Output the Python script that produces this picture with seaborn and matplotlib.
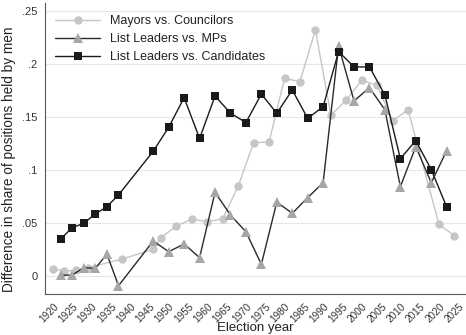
import numpy as np
import pandas as pd
import matplotlib
matplotlib.use('Agg')
import matplotlib.pyplot as plt
import seaborn as sns

# Mayors vs. Councilors
mayor_years = [1919, 1922, 1925, 1928, 1937, 1945, 1947, 1951, 1955, 1959, 1963, 1967,
               1971, 1975, 1979, 1983, 1987, 1991, 1995, 1999, 2003, 2007, 2011, 2019, 2023]
mayor_vals = [0.0069, 0.005, 0.0057, 0.008, 0.0163, 0.0255, 0.0364, 0.0475, 0.054, 0.0515,
              0.0543, 0.085, 0.126, 0.1267, 0.1868, 0.1836, 0.2324, 0.152, 0.1663, 0.185,
              0.180, 0.1468, 0.157, 0.049, 0.0383]

# List Leaders vs. MPs
mp_years = [1921, 1924, 1927, 1930, 1933, 1936, 1945, 1949, 1953, 1957, 1961, 1965, 1969,
            1973, 1977, 1981, 1985, 1989, 1993, 1997, 2001, 2005, 2009, 2013, 2017, 2021]
mp_vals = [0.001, 0.0012, 0.0081, 0.0075, 0.021, -0.0089, 0.0333, 0.0232, 0.0305, 0.0176,
           0.0792, 0.0578, 0.042, 0.0113, 0.070, 0.0594, 0.0742, 0.0883, 0.2173, 0.1654,
           0.178, 0.157, 0.0845, 0.1223, 0.0883, 0.1185]

# List Leaders vs. Candidates
cand_years = mp_years
cand_vals = [0.0352, 0.0458, 0.050, 0.0588, 0.0657, 0.0767, 0.118, 0.1406, 0.1685, 0.130,
             0.170, 0.154, 0.145, 0.1719, 0.1538, 0.1758, 0.149, 0.160, 0.212, 0.1975,
             0.1975, 0.171, 0.111, 0.128, 0.1006, 0.0654]

x_ticks = list(range(1920, 2026, 5))
y_ticks = [0, 0.05, 0.1, 0.15, 0.2, 0.25]
y_labels = ['0', '.05', '.1', '.15', '.2', '.25']

sns.set_style('white')
plt.rcParams['font.family'] = ['Liberation Sans', 'DejaVu Sans']

fig = plt.figure(figsize=(4.66, 3.35), dpi=100)
ax = fig.add_axes([0.0966, 0.1224, 0.9034, 0.8686])

for y in y_ticks:
    ax.axhline(y, color='#e6e6e6', lw=0.8, zorder=0)

sns.lineplot(x=mayor_years, y=mayor_vals, ax=ax, color='#c6c6c6', lw=1.0,
             marker='o', markersize=6, markeredgewidth=0, markerfacecolor='#c6c6c6',
             label='Mayors vs. Councilors', zorder=2)
sns.lineplot(x=mp_years, y=mp_vals, ax=ax, color='#2a2a2a', lw=1.0,
             marker='^', markersize=7, markeredgewidth=0, markerfacecolor='#a6a6a6',
             label='List Leaders vs. MPs', zorder=3)
sns.lineplot(x=cand_years, y=cand_vals, ax=ax, color='#1a1a1a', lw=1.0,
             marker='s', markersize=6, markeredgewidth=0, markerfacecolor='#1a1a1a',
             label='List Leaders vs. Candidates', zorder=4)

ax.set_xlim(1916.97, 2026.0)
ax.set_ylim(-0.0167, 0.2578)
ax.set_xticks(x_ticks)
ax.set_xticklabels([str(t) for t in x_ticks], rotation=45, ha='right', va='center',
                   rotation_mode='anchor', fontsize=7.2, color='#333333')
ax.set_yticks(y_ticks)
ax.set_yticklabels(y_labels, fontsize=8, color='#333333')
ax.tick_params(axis='both', direction='out', length=4, width=0.8, color='#555555', pad=1.5)
ax.tick_params(axis='x', pad=4)
ax.set_xlabel('Election year', fontsize=9.5, color='#222222')
ax.xaxis.set_label_coords(0.5, -0.097)
ax.set_ylabel('Difference in share of positions held by men', fontsize=9.8, color='#222222')
ax.yaxis.set_label_coords(-0.068, 0.464)

for s in ['top', 'right']:
    ax.spines[s].set_visible(False)
for s in ['left', 'bottom']:
    ax.spines[s].set_color('#555555')
    ax.spines[s].set_linewidth(0.8)

leg = ax.legend(loc='upper left', bbox_to_anchor=(0.024, 0.958), frameon=False,
                fontsize=9, handlelength=3.6, handletextpad=0.8, labelspacing=0.48,
                borderpad=0, borderaxespad=0)
for t in leg.get_texts():
    t.set_color('#222222')

fig.savefig('out.png', dpi=100)
